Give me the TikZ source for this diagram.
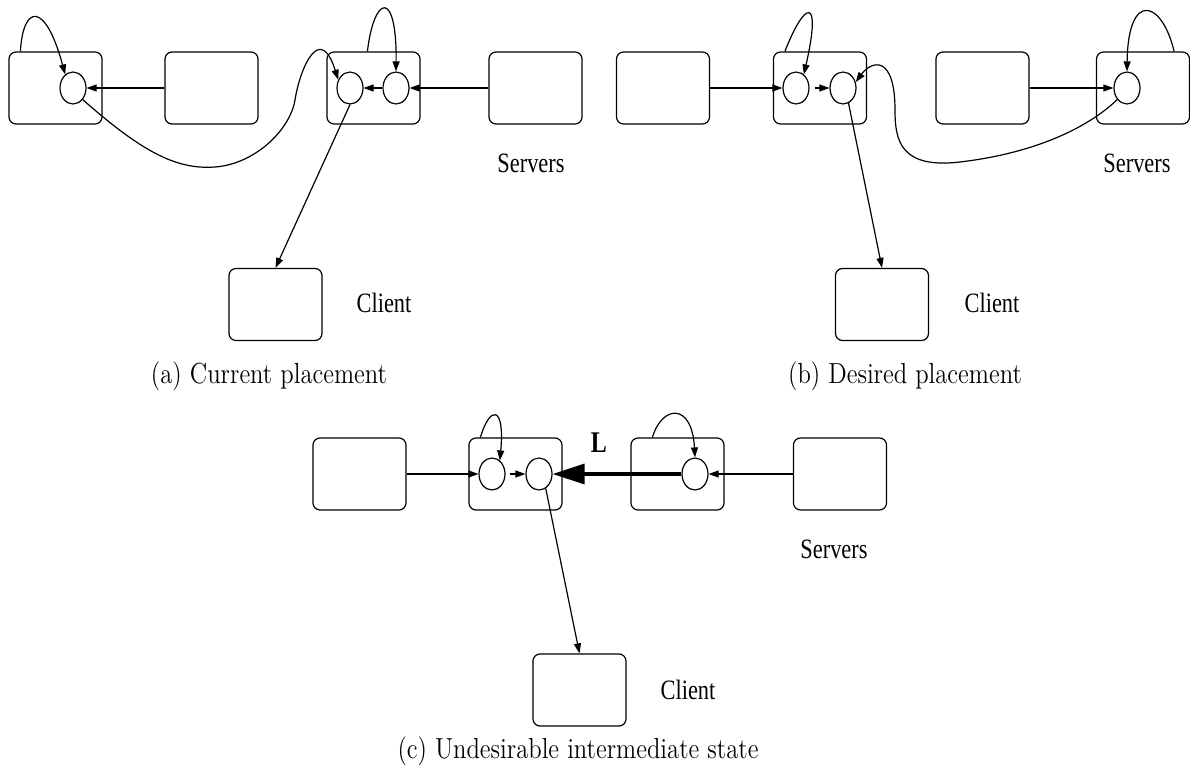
\documentclass[tikz,border=0pt]{standalone}
\usepackage{fontspec}
\usepackage{graphicx}
\newfontfamily\timesfont{Liberation Serif}
\newcommand{\narrowtag}[1]{\scalebox{0.8}[1]{#1}}
\newcommand{\narrowcap}[1]{\scalebox{0.85}[1]{#1}}
\usepackage{tikz}
\usetikzlibrary{arrows.meta,shapes.geometric}

\begin{document}
\begin{tikzpicture}[x=0.5pt, y=-0.5pt, line width=0.6pt, >={Triangle[length=5pt,width=3.5pt]},
  host/.style={draw, rounded corners=3.5pt, minimum width=46.5pt, minimum height=36pt, inner sep=0pt},
  proc/.style={draw, ellipse, minimum width=13pt, minimum height=16pt, inner sep=0pt},
  tag/.style={font=\timesfont\fontsize{14}{16}\selectfont},
  capt/.style={font=\fontsize{14.5}{17}\selectfont}]

\useasboundingbox (0,0) rectangle (1190,771);

% (a) current placement: hosts, the client, and their processes
\node[host] (a1) at (55.5,88) {};
\node[host] (a2) at (211.5,88) {};
\node[host] (a3) at (373.5,88) {};
\node[host] (a4) at (535.5,88) {};
\node[host] (ca) at (275.5,304.5) {};
\node[proc] (pa1) at (73,88) {};
\node[proc] (pa2) at (350,88) {};
\node[proc] (pa3) at (396,88) {};
\draw[->] (a2) -- (pa1);
\draw[->] (a4) -- (pa3);
\draw[->] (pa3) -- (pa2);
\draw[->] (pa2.south) -- (ca.north);
\draw[->] ([xshift=6pt]a1.north west) .. controls (23,5) and (45,0) .. (pa1.120);
\draw[->] ([xshift=20.5pt]a3.north west) .. controls (374,-5) and (397,-12) .. (pa3.north);
\draw[->] (pa1.-50) .. controls (140,150) and (175,170) .. (215,167)
  .. controls (255,164) and (290,130) .. (295,100)
  .. controls (300,68) and (320,22) .. (pa2.145);
\node[tag] (sa) at (531,163) {\narrowtag{Servers}};
\node[tag] (la) at (384,303) {\narrowtag{Client}};
\node[capt] (capa) at (269,376) {\narrowcap{(a) Current placement}};

% (b) desired placement
\node[host] (b1) at (663,88) {};
\node[host] (b2) at (820,88) {};
\node[host] (b3) at (982.5,88) {};
\node[host] (b4) at (1143,88) {};
\node[host] (cb) at (882,304.5) {};
\node[proc] (pb1) at (796,88) {};
\node[proc] (pb2) at (843,88) {};
\node[proc] (pb3) at (1127,88) {};
\draw[->] (b1) -- (pb1);
\draw[->, shorten <=2.5pt] (pb1) -- (pb2);
\draw[->] (b3) -- (pb3);
\draw[->] (pb2.-70) -- (cb.north);
\draw[->] ([xshift=6pt]b2.north west) .. controls (805,0) and (822,-5) .. (pb1.60);
\draw[->] ([xshift=-8pt]b4.north east) .. controls (1162,0) and (1128,-10) .. (pb3.north);
\draw[->] (pb3.-130) .. controls (1080,135) and (1020,155) .. (960,162)
  .. controls (900,169) and (895,140) .. (895,110)
  .. controls (895,55) and (872,60) .. (pb2.25);
\node[tag] (sb) at (1137,163) {\narrowtag{Servers}};
\node[tag] (lb) at (992,303) {\narrowtag{Client}};
\node[capt] (capb) at (905,376) {\narrowcap{(b) Desired placement}};

% (c) undesirable intermediate state, the heavy arrow is the link L
\node[host] (c1) at (359.5,474) {};
\node[host] (c2) at (515.5,474) {};
\node[host] (c3) at (677.5,474) {};
\node[host] (c4) at (840,474) {};
\node[host] (cc) at (579.5,690) {};
\node[proc] (pc1) at (492,474) {};
\node[proc] (pc2) at (539,474) {};
\node[proc] (pc3) at (695,474) {};
\draw[->] (c1) -- (pc1);
\draw[->, shorten <=2pt] (pc1) -- (pc2);
\draw[->] (c4) -- (pc3);
\draw[-{Triangle[length=16pt,width=10pt]}, line width=1.7pt] (pc3) -- (pc2)
  node[pos=0.64, above=10pt, inner sep=0pt, font=\timesfont\bfseries\fontsize{15}{17}\selectfont] (lab) {\narrowtag{L}};
\draw[->] (pc2.-65) -- (cc.north);
\draw[->] ([xshift=6pt]c2.north west) .. controls (490,405) and (505,405) .. (pc1.60);
\draw[->] ([xshift=11pt]c3.north west) .. controls (662,405) and (692,402) .. (pc3.north);
\node[tag] (sc) at (834,549) {\narrowtag{Servers}};
\node[tag] (lc) at (688,690) {\narrowtag{Client}};
\node[capt] (capc) at (578,751) {\narrowcap{(c) Undesirable intermediate state}};

\end{tikzpicture}
\end{document}
